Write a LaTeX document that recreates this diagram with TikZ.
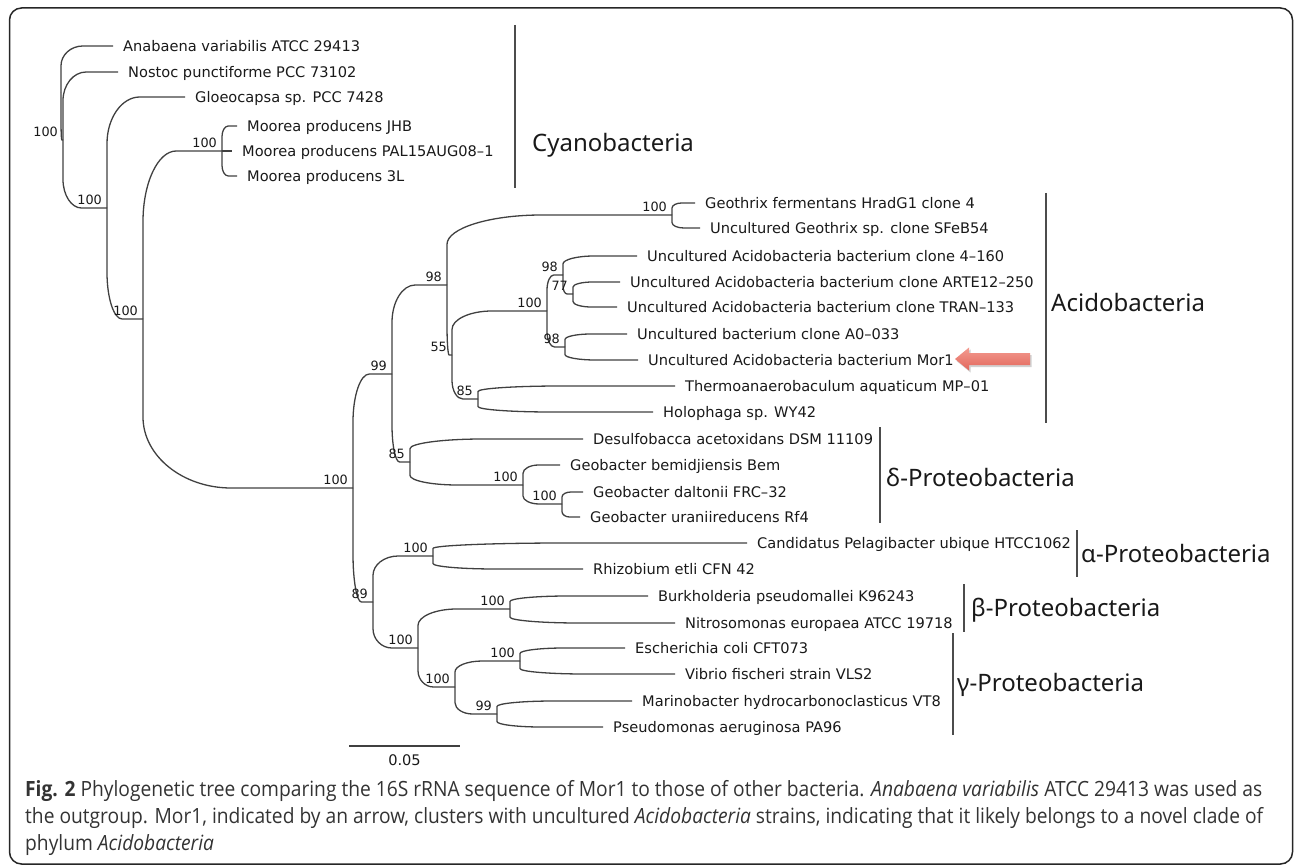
\documentclass[tikz,border=0pt]{standalone}
\usepackage{fontspec}
\setmainfont{Open Sans}
\newfontfamily\leaffont{DejaVu Sans}
\newfontfamily\cladefont{Noto Sans}
\usetikzlibrary{calc}
\definecolor{branchgray}{HTML}{404040}
\definecolor{captext}{HTML}{333333}
\definecolor{arrowtop}{HTML}{F39B90}
\definecolor{arrowbot}{HTML}{E2665B}
% curved FigTree-like branch: vertical run, rounded corner, horizontal run
\newcommand\tedge[2]{\draw[branch] (#1) -- ($(#1)!0.58!(#1 |- #2)$) .. controls ($(#1)!0.811!(#1 |- #2)$) and ($(#1 |- #2)!0.189!(#2)$) .. ($(#1 |- #2)!0.42!(#2)$) -- (#2);}
\newcommand\capfont{\fontsize{21}{27}\selectfont\color{captext}}
\newsavebox\capboxA
\newdimen\capwd
\tikzset{
  branch/.style={draw=branchgray, line width=1.3pt, line join=round},
  leaf/.style={font=\leaffont\fontsize{14.6}{16}\selectfont, text=black!90, anchor=west, inner sep=0pt, text height=10.6pt, text depth=0pt, xshift=10pt},
  boot/.style={font=\leaffont\fontsize{12.8}{14}\selectfont, text=black!90, anchor=south east, inner sep=0pt, text depth=0pt, xshift=-5pt, yshift=3.5pt},
  clade/.style={font=\cladefont\fontsize{24}{28}\selectfont, text=black!90, anchor=west, inner sep=0pt, text height=17pt, text depth=0pt},
  cladebar/.style={draw=black!70, line width=1.4pt},
  capline/.style={anchor=base west, inner sep=0pt},
  frame/.style={draw=black!85, line width=1.5pt, rounded corners=12pt},
}
\begin{document}
\sbox\capboxA{\capfont\textbf{Fig. 2} Phylogenetic tree comparing the 16S rRNA sequence of Mor1 to those of other bacteria. \textit{Anabaena variabilis} ATCC 29413 was used as}%
\capwd=\wd\capboxA
\pgfmathsetmacro\capfac{1237/\capwd}%
\begin{tikzpicture}[x=1pt,y=-1pt]
\useasboundingbox (0,0) rectangle (1295,866);
\draw[frame] (9.5,8) rectangle (1292.5,864);

% internal nodes
\coordinate (Rt) at (61,93);
\coordinate (X) at (63,140);
\coordinate (B) at (107,208);
\coordinate (C) at (143,319);
\coordinate (M) at (222,151);
\coordinate (D) at (353,488);
\coordinate (E) at (392,374);
\coordinate (G) at (447,285);
\coordinate (Gx) at (672,215);
\coordinate (I) at (452,355);
\coordinate (J) at (547,311);
\coordinate (L) at (563,275);
\coordinate (O) at (573,294);
\coordinate (N) at (565,347);
\coordinate (K) at (478,399);
\coordinate (H) at (410,462);
\coordinate (P) at (523,485);
\coordinate (Q) at (562,504);
\coordinate (F) at (373,602);
\coordinate (R) at (433,556);
\coordinate (S) at (418,648);
\coordinate (T) at (510,609);
\coordinate (U) at (455,687);
\coordinate (V) at (520,661);
\coordinate (W) at (497,714);

% leaf tips
\coordinate (t1) at (113,46);
\coordinate (t2) at (118,72);
\coordinate (t3) at (185,97);
\coordinate (t4) at (237,126);
\coordinate (t5) at (232,151);
\coordinate (t6) at (237,176);
\coordinate (t7) at (695,203);
\coordinate (t8) at (700,228);
\coordinate (t9) at (637,256);
\coordinate (t10) at (620,282);
\coordinate (t11) at (617,307);
\coordinate (t12) at (627,334);
\coordinate (t13) at (638,360);
\coordinate (t14) at (675,386);
\coordinate (t15) at (653,412);
\coordinate (t16) at (583,439);
\coordinate (t17) at (560,465);
\coordinate (t18) at (583,492);
\coordinate (t19) at (580,517);
\coordinate (t20) at (747,543);
\coordinate (t21) at (583,569);
\coordinate (t22) at (648,596);
\coordinate (t23) at (675,623);
\coordinate (t24) at (625,648);
\coordinate (t25) at (675,674);
\coordinate (t26) at (632,701);
\coordinate (t27) at (603,727);

% branches
\tedge{Rt}{t1}\tedge{Rt}{X}
\tedge{X}{t2}\tedge{X}{B}
\tedge{B}{t3}\tedge{B}{C}
\tedge{C}{M}\tedge{C}{D}
\tedge{M}{t4}\tedge{M}{t5}\tedge{M}{t6}
\tedge{D}{E}\tedge{D}{F}
\tedge{E}{G}\tedge{E}{H}
\tedge{G}{Gx}\tedge{G}{I}
\tedge{Gx}{t7}\tedge{Gx}{t8}
\tedge{I}{J}\tedge{I}{K}
\tedge{J}{L}\tedge{J}{N}
\tedge{L}{t9}\tedge{L}{O}
\tedge{O}{t10}\tedge{O}{t11}
\tedge{N}{t12}\tedge{N}{t13}
\tedge{K}{t14}\tedge{K}{t15}
\tedge{H}{t16}\tedge{H}{P}
\tedge{P}{t17}\tedge{P}{Q}
\tedge{Q}{t18}\tedge{Q}{t19}
\tedge{F}{R}\tedge{F}{S}
\tedge{R}{t20}\tedge{R}{t21}
\tedge{S}{T}\tedge{S}{U}
\tedge{T}{t22}\tedge{T}{t23}
\tedge{U}{V}\tedge{U}{W}
\tedge{V}{t24}\tedge{V}{t25}
\tedge{W}{t26}\tedge{W}{t27}

% leaf labels
\node[leaf] (l1) at (t1) {Anabaena variabilis ATCC 29413};
\node[leaf] (l2) at (t2) {Nostoc punctiforme PCC 73102};
\node[leaf] (l3) at (t3) {Gloeocapsa sp. PCC 7428};
\node[leaf] (l4) at (t4) {Moorea producens JHB};
\node[leaf] (l5) at (t5) {Moorea producens PAL15AUG08–1};
\node[leaf] (l6) at (t6) {Moorea producens 3L};
\node[leaf] (l7) at (t7) {Geothrix fermentans HradG1 clone 4};
\node[leaf] (l8) at (t8) {Uncultured Geothrix sp. clone SFeB54};
\node[leaf] (l9) at (t9) {Uncultured Acidobacteria bacterium clone 4–160};
\node[leaf] (l10) at (t10) {Uncultured Acidobacteria bacterium clone ARTE12–250};
\node[leaf] (l11) at (t11) {Uncultured Acidobacteria bacterium clone TRAN–133};
\node[leaf] (l12) at (t12) {Uncultured bacterium clone A0–033};
\node[leaf] (l13) at (t13) {Uncultured Acidobacteria bacterium Mor1};
\node[leaf] (l14) at (t14) {Thermoanaerobaculum aquaticum MP–01};
\node[leaf] (l15) at (t15) {Holophaga sp. WY42};
\node[leaf] (l16) at (t16) {Desulfobacca acetoxidans DSM 11109};
\node[leaf] (l17) at (t17) {Geobacter bemidjiensis Bem};
\node[leaf] (l18) at (t18) {Geobacter daltonii FRC–32};
\node[leaf] (l19) at (t19) {Geobacter uraniireducens Rf4};
\node[leaf] (l20) at (t20) {Candidatus Pelagibacter ubique HTCC1062};
\node[leaf] (l21) at (t21) {Rhizobium etli CFN 42};
\node[leaf] (l22) at (t22) {Burkholderia pseudomallei K96243};
\node[leaf] (l23) at (t23) {Nitrosomonas europaea ATCC 19718};
\node[leaf] (l24) at (t24) {Escherichia coli CFT073};
\node[leaf] (l25) at (t25) {Vibrio fischeri strain VLS2};
\node[leaf] (l26) at (t26) {Marinobacter hydrocarbonoclasticus VT8};
\node[leaf] (l27) at (t27) {Pseudomonas aeruginosa PA96};

% bootstrap values
\node[boot] (bX) at (X) {100};
\node[boot] (bB) at (B) {100};
\node[boot] (bC) at (C) {100};
\node[boot] (bM) at (M) {100};
\node[boot] (bD) at (D) {100};
\node[boot] (bE) at (E) {99};
\node[boot] (bG) at (G) {98};
\node[boot] (bGx) at (Gx) {100};
\node[boot] (bI) at (I) {55};
\node[boot] (bJ) at (J) {100};
\node[boot] (bL) at (L) {98};
\node[boot] (bO) at (O) {77};
\node[boot] (bN) at (N) {98};
\node[boot] (bK) at (K) {85};
\node[boot] (bH) at (H) {85};
\node[boot] (bP) at (P) {100};
\node[boot] (bQ) at (Q) {100};
\node[boot] (bF) at (F) {89};
\node[boot] (bR) at (R) {100};
\node[boot] (bS) at (S) {100};
\node[boot] (bT) at (T) {100};
\node[boot] (bU) at (U) {100};
\node[boot] (bV) at (V) {100};
\node[boot] (bW) at (W) {99};

% clade bars and names
\coordinate (cy1) at (515,25);   \coordinate (cy2) at (515,188);
\coordinate (ac1) at (1046,193); \coordinate (ac2) at (1046,423);
\coordinate (de1) at (880,427);  \coordinate (de2) at (880,523);
\coordinate (al1) at (1077,530); \coordinate (al2) at (1077,577);
\coordinate (be1) at (964,584);  \coordinate (be2) at (964,632);
\coordinate (ga1) at (953,633);  \coordinate (ga2) at (953,735);
\draw[cladebar] (cy1) -- (cy2);
\draw[cladebar] (ac1) -- (ac2);
\draw[cladebar] (de1) -- (de2);
\draw[cladebar] (al1) -- (al2);
\draw[cladebar] (be1) -- (be2);
\draw[cladebar] (ga1) -- (ga2);
\node[clade] (cyano) at (532,143) {Cyanobacteria};
\node[clade] (acido) at (1051,303) {Acidobacteria};
\node[clade] (delta) at (886,478) {δ-Proteobacteria};
\node[clade] (alpha) at (1081,554) {α-Proteobacteria};
\node[clade] (beta) at (971,608) {β-Proteobacteria};
\node[clade] (gamma) at (957,683) {γ-Proteobacteria};

% arrow pointing at Mor1
\coordinate (arrtip) at (955,359);
\fill[black!30, opacity=0.6] ($(arrtip)+(1.5,2)$) -- ++(14,-11.5) -- ++(0,5.5) -- ++(61,0) -- ++(0,12) -- ++(-61,0) -- ++(0,5.5) -- cycle;
\shade[top color=arrowtop, bottom color=arrowbot] (arrtip) -- ++(14,-11.5) -- ++(0,5.5) -- ++(61,0) -- ++(0,12) -- ++(-61,0) -- ++(0,5.5) -- cycle;

% scale bar
\coordinate (sb1) at (349,746);
\coordinate (sb2) at (460,746);
\draw[branch] (sb1) -- (sb2);
\node[font=\leaffont\fontsize{14.6}{16}\selectfont, text=black!90, inner sep=0pt, text height=10.6pt, text depth=0pt] (sblab) at (404.5,760) {0.05};

% caption
\node[capline] (cap1) at (25,796) {\scalebox{\capfac}[1]{\usebox\capboxA}};
\node[capline] (cap2) at (25,823) {\scalebox{\capfac}[1]{\capfont the outgroup. Mor1, indicated by an arrow, clusters with uncultured \textit{Acidobacteria} strains, indicating that it likely belongs to a novel clade of}};
\node[capline] (cap3) at (25,850) {\scalebox{\capfac}[1]{\capfont phylum \textit{Acidobacteria}}};
\end{tikzpicture}
\end{document}
